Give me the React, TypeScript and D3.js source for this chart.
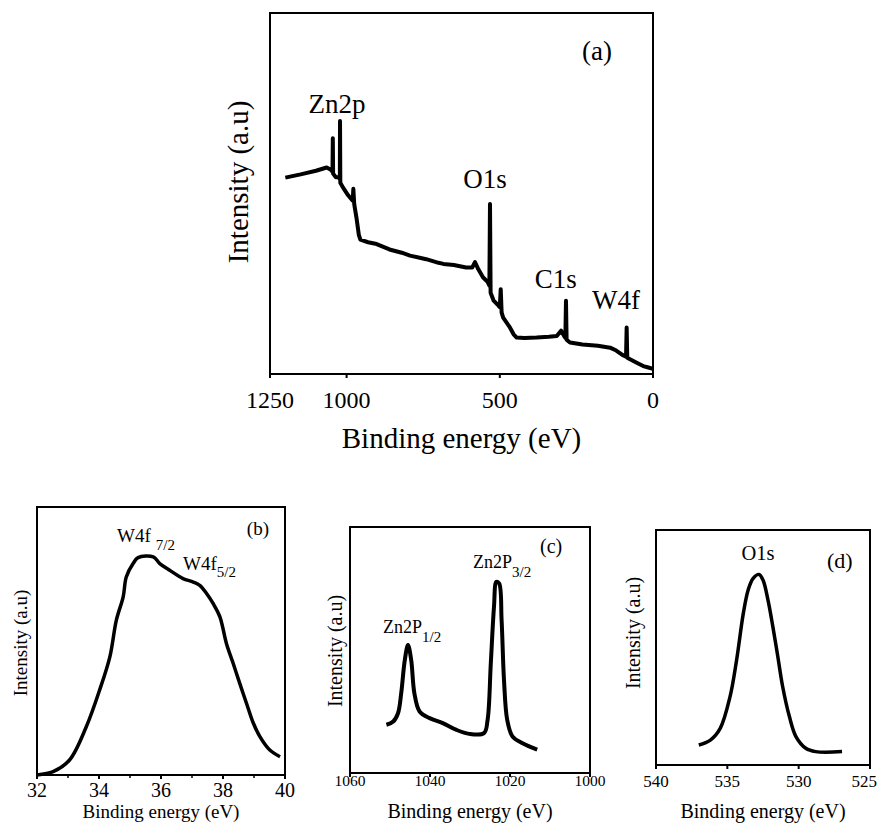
import React from "react";
import * as d3 from "d3";

// ---------- Data ----------
// Panel (a): survey spectrum [binding energy eV, intensity a.u.]
const surveyData: [number, number][] = [
  [1200, 54.4], [1150, 55.3], [1100, 56.3], [1065, 57.2], [1050, 56.5], [1046, 56], [1045, 65.3], [1044, 55.5],
  [1035, 54.5], [1026, 54.5], [1022, 54], [1021.5, 70.1], [1020.5, 53], [1012, 51.7], [995, 49.5], [985, 48.5],
  [980, 48], [978, 51.3], [975, 47], [968, 43.4], [960, 38.5], [955, 37.2], [930, 36.5], [902, 36], [860, 34.5],
  [820, 33.6], [793, 32.8], [740, 31.8], [700, 30.8], [684, 30.5], [650, 30.2], [610, 29.5], [590, 29.5],
  [581, 31], [570, 29], [555, 26.8], [540, 25.5], [534, 24.5], [532, 47.1], [530, 22.5], [520, 20.3], [505, 19],
  [500, 18.5], [497, 23.5], [494, 17], [489, 15.6], [480, 14.5], [467, 12.9], [455, 11], [445, 10.1], [420, 10],
  [380, 10.1], [340, 10.3], [314, 10.5], [300, 12], [290, 10.5], [286, 10], [284, 20.3], [282, 9.5], [271, 8.7],
  [230, 8.2], [180, 7.8], [140, 7.3], [120, 6.5], [100, 5.3], [88, 4.8], [86, 12.9], [84, 4.5], [75, 4.1],
  [50, 3], [32, 2.2], [15, 1.8], [0, 1.4],
];
const surveyTicks = [1250, 1000, 500, 0];
const surveyLabels: { text: string; x: number; y: number }[] = [
  { text: "Zn2p", x: 1031, y: 72.2 },
  { text: "O1s", x: 548, y: 51.4 },
  { text: "C1s", x: 317, y: 23.9 },
  { text: "W4f", x: 121, y: 18 },
];

// Panel (b): W4f
const w4fData: [number, number][] = [
  [32.0, 0], [32.52, 1.24], [33.05, 5.6], [33.59, 18.0], [34.02, 31.7], [34.35, 44.1], [34.56, 57.8],
  [34.78, 66.5], [34.88, 73.9], [35.10, 78.9], [35.26, 81.1], [35.75, 81.4], [35.96, 78.9], [36.28, 76.4],
  [36.71, 73.3], [37.04, 72.0], [37.25, 70.8], [37.47, 67.7], [37.68, 64.0], [37.90, 59.0], [38.11, 49.1],
  [38.33, 41.6], [38.54, 34.2], [38.76, 26.7], [38.98, 19.3], [39.19, 14.3], [39.51, 9.3], [39.84, 6.8],
];
const w4fTicks = [32, 34, 36, 38, 40];
const w4fMinor = [33, 35, 37, 39];

// Panel (c): Zn2p
const zn2pData: [number, number][] = [
  [1050.9, 19.6], [1049.2, 20.9], [1048.0, 24.3], [1047.2, 32.4], [1046.3, 45.9], [1045.5, 52.0],
  [1044.7, 45.9], [1043.9, 32.4], [1042.6, 25.0], [1040.1, 22.3], [1036.8, 20.3], [1033.5, 17.6],
  [1030.2, 15.9], [1026.5, 16.2], [1025.6, 21.6], [1024.8, 44.6], [1024.0, 67.6], [1023.4, 77.7],
  [1022.7, 77.0], [1022.1, 62.2], [1021.5, 37.8], [1020.7, 21.6], [1019.4, 14.9], [1017.0, 12.2], [1013.2, 9.5],
];
const zn2pTicks = [1060, 1040, 1020, 1000];

// Panel (d): O1s
const o1sData: [number, number][] = [
  [537.0, 8.5], [536.19, 10.6], [535.5, 15.6], [534.81, 29.1], [534.35, 44.7], [533.88, 64.5], [533.54, 74.5],
  [533.19, 79.4], [532.78, 81.1], [532.5, 78.7], [532.15, 70.2], [531.81, 58.9], [531.46, 46.1], [531.12, 33.3],
  [530.65, 20.6], [530.19, 12.1], [529.5, 7.1], [528.81, 5.7], [526.96, 5.7],
];
const o1sTicks = [540, 535, 530, 525];

const FONT = "'Liberation Serif', 'Times New Roman', serif";
const PAGE_W = 878;

type Box = { left: number; right: number; top: number; bottom: number };

function Panel(props: {
  box: Box;
  xDomain: [number, number];
  data: [number, number][];
  ticks: number[];
  minor?: number[];
  tickFont: number;
  tickBaseline: number;
  title: string;
  titleFont: number;
  titleBaseline: number;
  yLabelX: number;
  yLabelY: number;
  yLabelFont: number;
  lineWidth: number;
  smooth: boolean;
  children?: (x: d3.ScaleLinear<number, number>, y: d3.ScaleLinear<number, number>) => React.ReactNode;
}) {
  const { box } = props;
  const x = d3.scaleLinear().domain(props.xDomain).range([box.left, box.right]);
  const y = d3.scaleLinear().domain([0, 100]).range([box.bottom, box.top]);
  const line = d3
    .line<[number, number]>()
    .x((d) => x(d[0]))
    .y((d) => y(d[1]))
    .curve(props.smooth ? d3.curveCatmullRom.alpha(0.5) : d3.curveLinear);
  const titleX = (box.left + box.right) / 2;
  return (
    <g>
      <path d={line(props.data) || ""} fill="none" stroke="#000" strokeWidth={props.lineWidth} strokeLinejoin="round" />
      <rect x={box.left} y={box.top} width={box.right - box.left} height={box.bottom - box.top} fill="none" stroke="#000" strokeWidth={2} />
      {props.ticks.map((t) => {
        const tx = x(t);
        const w = String(t).length * 0.5 * props.tickFont;
        const overflow = tx + w / 2 > PAGE_W - 1;
        return (
          <g key={t}>
            <line x1={tx} x2={tx} y1={box.bottom} y2={box.bottom + 4} stroke="#000" strokeWidth={2} />
            <text
              x={overflow ? PAGE_W - 1 : tx}
              y={props.tickBaseline}
              fontSize={props.tickFont}
              textAnchor={overflow ? "end" : "middle"}
              fontFamily={FONT}
              fill="#000"
            >
              {t}
            </text>
          </g>
        );
      })}
      {(props.minor || []).map((t) => (
        <line key={"m" + t} x1={x(t)} x2={x(t)} y1={box.bottom} y2={box.bottom + 3} stroke="#000" strokeWidth={1.5} />
      ))}
      <text x={titleX} y={props.titleBaseline} fontSize={props.titleFont} textAnchor="middle" fontFamily={FONT} fill="#000">
        {props.title}
      </text>
      <text
        transform={`translate(${props.yLabelX},${props.yLabelY}) rotate(-90)`}
        dy="0.35em"
        fontSize={props.yLabelFont}
        textAnchor="middle"
        fontFamily={FONT}
        fill="#000"
      >
        Intensity (a.u)
      </text>
      {props.children ? props.children(x, y) : null}
    </g>
  );
}

export default function App() {
  return (
    <svg width={878} height={824} style={{ position: "absolute", left: 0, top: 0, background: "#fff" }}>
      <rect x={0} y={0} width={878} height={824} fill="#fff" />
      {/* (a) */}
      <Panel
        box={{ left: 270, right: 653, top: 13, bottom: 374 }}
        xDomain={[1250, 0]}
        data={surveyData}
        ticks={surveyTicks}
        tickFont={24}
        tickBaseline={408}
        title="Binding energy (eV)"
        titleFont={29}
        titleBaseline={448}
        yLabelX={238}
        yLabelY={182}
        yLabelFont={29}
        lineWidth={4}
        smooth={false}
      >
        {(x, y) => (
          <g fontFamily={FONT} fill="#000">
            {surveyLabels.map((l) => (
              <text key={l.text} x={x(l.x)} y={y(l.y)} fontSize={27} textAnchor="middle">
                {l.text}
              </text>
            ))}
            <text x={x(183)} y={y(86.9)} fontSize={27} textAnchor="middle">(a)</text>
          </g>
        )}
      </Panel>
      {/* (b) */}
      <Panel
        box={{ left: 37, right: 285, top: 507, bottom: 775 }}
        xDomain={[32, 40]}
        data={w4fData}
        ticks={w4fTicks}
        minor={w4fMinor}
        tickFont={20}
        tickBaseline={797}
        title="Binding energy (eV)"
        titleFont={19}
        titleBaseline={818}
        yLabelX={20}
        yLabelY={643}
        yLabelFont={19}
        lineWidth={3.5}
        smooth={true}
      >
        {(x, y) => (
          <g fontFamily={FONT} fill="#000">
            <text x={x(34.58)} y={y(86.9)} fontSize={19}>
              W4f
              <tspan dx={5} dy={8} fontSize={15}>7/2</tspan>
            </text>
            <text x={x(36.71)} y={y(76.5)} fontSize={19}>
              W4f
              <tspan dy={7} fontSize={15}>5/2</tspan>
            </text>
            <text x={x(38.77)} y={y(89.6)} fontSize={19}>(b)</text>
          </g>
        )}
      </Panel>
      {/* (c) */}
      <Panel
        box={{ left: 350, right: 590, top: 527, bottom: 773 }}
        xDomain={[1060, 1000]}
        data={zn2pData}
        ticks={zn2pTicks}
        tickFont={15.5}
        tickBaseline={786}
        title="Binding energy (eV)"
        titleFont={20}
        titleBaseline={818}
        yLabelX={335}
        yLabelY={651}
        yLabelFont={20}
        lineWidth={4}
        smooth={true}
      >
        {(x, y) => (
          <g fontFamily={FONT} fill="#000">
            <text x={x(1051.75)} y={y(56.9)} fontSize={18}>
              Zn2P
              <tspan dy={9} fontSize={15}>1/2</tspan>
            </text>
            <text x={x(1029.25)} y={y(83.3)} fontSize={18}>
              Zn2P
              <tspan dy={9} fontSize={15}>3/2</tspan>
            </text>
            <text x={x(1012.5)} y={y(89.4)} fontSize={20}>(c)</text>
          </g>
        )}
      </Panel>
      {/* (d) */}
      <Panel
        box={{ left: 656, right: 870, top: 530, bottom: 765 }}
        xDomain={[540, 525]}
        data={o1sData}
        ticks={o1sTicks}
        tickFont={17}
        tickBaseline={787}
        title="Binding energy (eV)"
        titleFont={20}
        titleBaseline={818}
        yLabelX={633}
        yLabelY={633}
        yLabelFont={20}
        lineWidth={3.5}
        smooth={true}
      >
        {(x, y) => (
          <g fontFamily={FONT} fill="#000">
            <text x={x(532.85)} y={y(87.2)} fontSize={20.5} textAnchor="middle">O1s</text>
            <text x={x(528.02)} y={y(83.8)} fontSize={22}>(d)</text>
          </g>
        )}
      </Panel>
    </svg>
  );
}
